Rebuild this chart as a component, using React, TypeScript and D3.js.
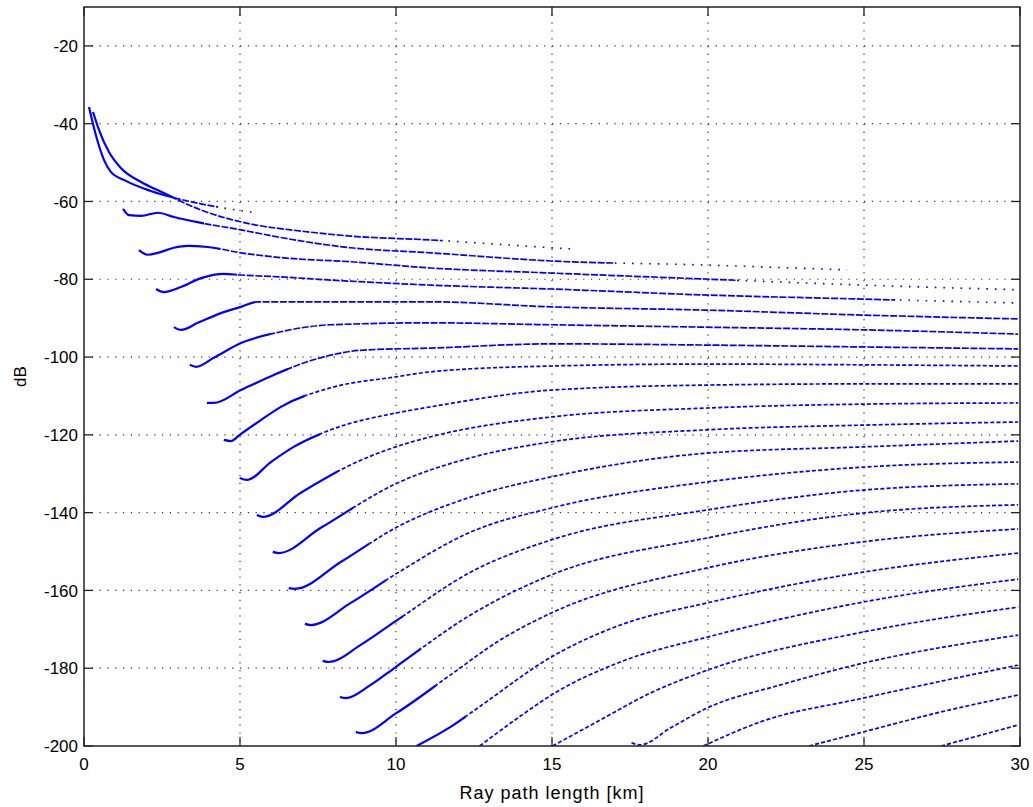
import React from "react";
import * as d3 from "d3";

type Pt = [number, number];

const xTickValues = [0, 5, 10, 15, 20, 25, 30];
const yTickValues = [-20, -40, -60, -80, -100, -120, -140, -160, -180, -200];
const xDomain: Pt = [0, 30];
const yDomain: Pt = [-200, -10];
const xLabel = "Ray path length [km]";
const yLabel = "dB";

// Ray traces: [path length km, level dB]
const ray01: Pt[] = [[0.16,-35.7],[0.38,-42.9],[0.64,-49.3],[0.86,-52.4],[1.34,-54.7],[2.14,-57.3],[3.75,-60.6],[5.51,-62.9]];
const ray02: Pt[] = [[0.29,-37.0],[0.48,-41.6],[0.8,-47.3],[1.18,-51.4],[1.83,-55.0],[2.47,-57.5],[3.75,-62.2],[5.35,-65.8],[6.95,-67.6],[8.55,-68.9],[11.11,-69.9],[14.98,-71.9],[15.59,-72.2]];
const ray03: Pt[] = [[1.25,-61.9],[1.44,-63.5],[1.83,-63.7],[2.37,-62.9],[2.88,-64.0],[3.75,-65.5],[5.03,-67.3],[6.4,-69.4],[8.55,-71.9],[11.11,-73.2],[14.98,-75.3],[19.76,-76.3],[24.46,-77.6]];
const ray04: Pt[] = [[1.76,-72.5],[2.05,-73.7],[2.37,-73.2],[2.88,-71.9],[3.33,-71.4],[3.97,-71.7],[5.03,-73.2],[6.4,-74.5],[8.55,-75.5],[11.11,-77.1],[14.98,-78.4],[19.76,-79.9],[24.97,-81.5],[29.94,-82.7]];
const ray05: Pt[] = [[2.31,-82.5],[2.56,-83.3],[3.11,-82.0],[3.75,-79.7],[4.48,-78.6],[5.03,-78.9],[6.31,-79.4],[7.91,-80.2],[11.11,-81.5],[14.98,-82.5],[19.76,-84.0],[24.97,-85.1],[29.94,-86.1]];
const ray06: Pt[] = [[2.88,-92.3],[3.11,-93.0],[3.65,-91.2],[4.39,-88.7],[5.03,-87.1],[5.57,-85.8],[7.36,-85.8],[11.11,-85.8],[14.98,-87.1],[19.76,-87.9],[24.97,-89.2],[29.94,-90.2]];
const ray07: Pt[] = [[3.39,-102.0],[3.59,-102.5],[4.16,-100.2],[5.03,-96.4],[6.31,-93.5],[7.91,-91.7],[11.11,-91.2],[14.98,-91.7],[19.76,-92.3],[24.97,-93.0],[29.94,-94.1]];
const ray08: Pt[] = [[3.94,-111.8],[4.16,-111.8],[5.03,-108.5],[6.08,-104.6],[7.36,-100.7],[8.97,-98.2],[11.11,-97.7],[14.98,-96.6],[19.76,-96.9],[24.97,-97.4],[29.94,-97.9]];
const ray09: Pt[] = [[4.48,-121.3],[4.71,-121.6],[4.99,-120.0],[5.67,-116.2],[6.31,-112.8],[7.91,-107.9],[9.99,-105.1],[11.11,-103.8],[14.98,-102.3],[19.98,-101.8],[24.97,-102.0],[29.94,-102.3]];
const ray10: Pt[] = [[4.99,-131.1],[5.22,-131.6],[5.99,-127.0],[6.72,-123.1],[7.91,-118.7],[9.99,-114.4],[11.11,-112.8],[14.98,-108.5],[19.98,-107.2],[24.97,-106.9],[29.94,-106.9]];
const ray11: Pt[] = [[5.54,-140.6],[5.73,-141.1],[6.95,-134.9],[8.55,-127.7],[9.99,-123.1],[11.11,-120.5],[14.98,-115.4],[19.98,-113.1],[24.97,-112.1],[29.94,-111.8]];
const ray12: Pt[] = [[6.05,-150.1],[6.24,-150.4],[7.59,-143.9],[9.99,-132.6],[12.39,-125.9],[14.98,-121.8],[19.98,-118.7],[24.97,-117.5],[29.94,-116.7]];
const ray13: Pt[] = [[6.56,-159.4],[6.76,-159.6],[8.23,-152.7],[9.99,-143.9],[12.39,-136.0],[14.98,-130.8],[19.98,-124.7],[24.97,-123.1],[29.94,-121.6]];
const ray14: Pt[] = [[7.08,-168.6],[7.27,-168.9],[8.55,-163.2],[9.99,-155.8],[12.39,-145.0],[14.98,-138.8],[19.98,-132.1],[24.97,-128.3],[29.94,-127.0]];
const ray15: Pt[] = [[7.65,-178.1],[7.84,-178.4],[8.87,-174.0],[9.99,-167.9],[12.39,-155.3],[14.98,-147.0],[19.98,-139.3],[24.97,-134.2],[29.94,-132.6]];
const ray16: Pt[] = [[8.2,-187.4],[8.39,-187.7],[9.19,-184.3],[9.99,-179.7],[12.39,-166.3],[14.98,-156.0],[19.98,-146.5],[24.97,-140.1],[29.94,-138.0]];
const ray17: Pt[] = [[8.71,-196.4],[8.9,-196.7],[10.02,-191.5],[11.75,-181.7],[13.35,-172.7],[14.98,-165.8],[19.98,-154.2],[24.97,-147.5],[29.94,-144.2]];
const ray18: Pt[] = [[10.66,-200.0],[11.75,-195.1],[12.71,-189.7],[14.98,-177.1],[17.19,-168.9],[19.98,-163.2],[24.97,-155.3],[29.94,-150.4]];
const ray19: Pt[] = [[12.68,-200.0],[13.99,-192.3],[14.98,-186.9],[17.19,-178.4],[19.98,-172.0],[24.97,-163.0],[29.94,-157.1]];
const ray20: Pt[] = [[15.02,-200.0],[16.55,-193.3],[18.15,-186.4],[19.98,-180.5],[24.97,-170.7],[29.94,-164.3]];
const ray21: Pt[] = [[17.55,-199.2],[17.83,-199.7],[18.79,-195.4],[19.98,-190.2],[22.32,-184.3],[24.97,-178.7],[29.94,-171.5]];
const ray22: Pt[] = [[19.85,-200.0],[21.68,-193.8],[24.97,-187.7],[29.94,-179.2]];
const ray23: Pt[] = [[23.24,-200.0],[24.97,-196.4],[27.44,-191.3],[29.94,-186.9]];
const ray24: Pt[] = [[27.47,-200.0],[29.94,-194.6]];

const rays: Pt[][] = [ray01, ray02, ray03, ray04, ray05, ray06, ray07, ray08, ray09, ray10, ray11, ray12,
  ray13, ray14, ray15, ray16, ray17, ray18, ray19, ray20, ray21, ray22, ray23, ray24];

// style: length of the bold solid start of each trace (km)
const solidSpanKm = [2.6, 2.6, 2.6, 2.6, 2.6, 2.6, 2.6, 2.6, 2.6, 2.6, 2.6, 2.6, 2.6, 2.6, 2.6, 2.6, 2.6, 1.6, 0, 0, 0, 0, 0, 0];
// style: where each trace turns into sparse dots (km)
const sparseFromKm = [4.3, 11.5, 17, 21, 26, 99, 99, 99, 99, 99, 99, 99, 99, 99, 99, 99, 99, 99, 99, 99, 99, 99, 99, 99];

export default function App() {
  const W = 1033, H = 807;
  const left = 84, right = 1020, top = 7, bottom = 746;
  const x = d3.scaleLinear().domain(xDomain).range([left, right]);
  const y = d3.scaleLinear().domain(yDomain).range([bottom, top]);
  const line = d3.line<Pt>().x(d => x(d[0])).y(d => y(d[1])).curve(d3.curveMonotoneX);
  const tickLen = 9;
  const font = "'Liberation Sans', Arial, sans-serif";
  const blue = "#0000ff";

  return (
    <svg width={W} height={H} style={{ position: "absolute", left: 0, top: 0 }}>
      <rect width={W} height={H} fill="#fff" />
      <defs>
        {rays.map((r, i) => {
          const x0 = r[0][0];
          const s = x0 + solidSpanKm[i];
          const sp = Math.max(s, sparseFromKm[i]);
          const sx = Math.max(left, x(x0) - 6);
          const dx = solidSpanKm[i] > 0 ? x(s) : sx;
          return (
            <React.Fragment key={i}>
              <clipPath id={`cs${i}`}>
                <rect x={sx} y={top} width={Math.max(0, x(s) - sx)} height={bottom - top} />
              </clipPath>
              <clipPath id={`cd${i}`}>
                <rect x={dx} y={top} width={Math.max(0, Math.min(right, x(sp)) - dx)} height={bottom - top} />
              </clipPath>
              <clipPath id={`cp${i}`}>
                <rect x={x(sp)} y={top} width={Math.max(0, right - x(sp))} height={bottom - top} />
              </clipPath>
            </React.Fragment>
          );
        })}
      </defs>

      {/* grid */}
      <g stroke="#333" strokeWidth={1.2} strokeDasharray="1.2 6.6">
        {xTickValues.filter(v => v > xDomain[0] && v < xDomain[1]).map(v => (
          <line key={`gx${v}`} x1={x(v)} x2={x(v)} y1={top} y2={bottom} />
        ))}
        {yTickValues.filter(v => v > yDomain[0] && v < yDomain[1]).map(v => (
          <line key={`gy${v}`} x1={left} x2={right} y1={y(v)} y2={y(v)} />
        ))}
      </g>

      {/* rays */}
      <g fill="none" stroke={blue} strokeLinejoin="round">
        {rays.map((r, i) => {
          const d = line(r) || "";
          return (
            <g key={i}>
              {solidSpanKm[i] > 0 && <path d={d} clipPath={`url(#cs${i})`} strokeWidth={2.2} />}
              <path d={d} clipPath={`url(#cd${i})`} strokeWidth={1.7} strokeDasharray={i < 8 ? "7 1.6" : "4 2.2"} />
              <path d={d} clipPath={`url(#cp${i})`} strokeWidth={1.6} strokeDasharray="1.6 7" />
            </g>
          );
        })}
      </g>

      {/* box */}
      <rect x={left} y={top} width={right - left} height={bottom - top} fill="none" stroke="#222" strokeWidth={1.5} />

      {/* ticks */}
      <g stroke="#222" strokeWidth={1.3}>
        {xTickValues.map(v => (
          <React.Fragment key={`tx${v}`}>
            <line x1={x(v)} x2={x(v)} y1={bottom} y2={bottom - tickLen} />
            <line x1={x(v)} x2={x(v)} y1={top} y2={top + tickLen} />
          </React.Fragment>
        ))}
        {yTickValues.map(v => (
          <React.Fragment key={`ty${v}`}>
            <line x1={left} x2={left + tickLen} y1={y(v)} y2={y(v)} />
            <line x1={right} x2={right - tickLen} y1={y(v)} y2={y(v)} />
          </React.Fragment>
        ))}
      </g>

      {/* tick labels */}
      <g fontFamily={font} fontSize={17} fill="#000">
        {xTickValues.map(v => (
          <text key={`lx${v}`} x={x(v)} y={770} textAnchor="middle">{v}</text>
        ))}
        {yTickValues.map(v => (
          <text key={`ly${v}`} x={left - 6} y={y(v)} dy="0.36em" textAnchor="end">{v}</text>
        ))}
        <text x={(left + right) / 2} y={799} textAnchor="middle" fontSize={18} letterSpacing={1}>{xLabel}</text>
        <text transform={`translate(26, ${(top + bottom) / 2}) rotate(-90)`} textAnchor="middle">{yLabel}</text>
      </g>
    </svg>
  );
}
